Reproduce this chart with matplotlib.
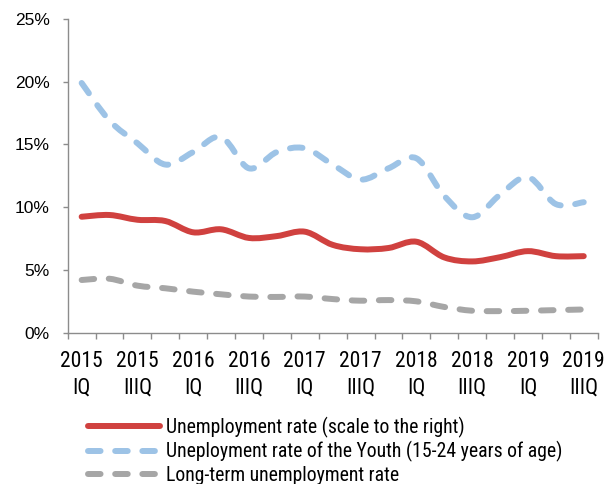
import matplotlib
matplotlib.use("Agg")
import matplotlib.pyplot as plt
from matplotlib.path import Path
from matplotlib.patches import PathPatch
from matplotlib.lines import Line2D
from matplotlib.ticker import FixedLocator, FuncFormatter
import numpy as np

plt.rcParams['font.family'] = ['Roboto Condensed', 'Liberation Sans', 'DejaVu Sans']

categories = ["2015\nIQ", "2015\nIIQ", "2015\nIIIQ", "2015\nIVQ",
              "2016\nIQ", "2016\nIIQ", "2016\nIIIQ", "2016\nIVQ",
              "2017\nIQ", "2017\nIIQ", "2017\nIIIQ", "2017\nIVQ",
              "2018\nIQ", "2018\nIIQ", "2018\nIIIQ", "2018\nIVQ",
              "2019\nIQ", "2019\nIIQ", "2019\nIIIQ"]
unemployment = [9.24, 9.38, 9.0, 8.9, 8.0, 8.24, 7.55, 7.7, 8.05, 7.0,
                6.65, 6.75, 7.25, 6.0, 5.68, 6.02, 6.5, 6.1, 6.1]
youth = [19.9, 16.9, 15.1, 13.4, 14.4, 15.6, 13.1, 14.4, 14.7, 13.4,
         12.2, 13.1, 13.9, 10.9, 9.2, 11.0, 12.4, 10.25, 10.4]
long_term = [4.2, 4.3, 3.75, 3.54, 3.27, 3.06, 2.88, 2.85, 2.88, 2.68,
             2.55, 2.6, 2.5, 2.05, 1.75, 1.72, 1.75, 1.8, 1.85]
labels = ["Unemployment rate (scale to the right)",
          "Uneployment rate of the Youth (15-24 years of age)",
          "Long-term unemployment rate"]
yticks = [0, 5, 10, 15, 20, 25]

RED = "#D0413F"
BLUE = "#9DC3E6"
GREY = "#A6A6A6"
LW = 4.3
DASH = (0, (2.1, 2.45))


def smooth_path(ys):
    xs = np.arange(len(ys), dtype=float)
    pts = np.column_stack([xs, np.asarray(ys, float)])
    n = len(pts)
    verts = [pts[0]]
    codes = [Path.MOVETO]
    for i in range(n - 1):
        p0 = pts[i - 1] if i > 0 else pts[i]
        p1 = pts[i]
        p2 = pts[i + 1]
        p3 = pts[i + 2] if i + 2 < n else pts[i + 1]
        c1 = p1 + (p2 - p0) / 6.0
        c2 = p2 - (p3 - p1) / 6.0
        verts += [c1, c2, p2]
        codes += [Path.CURVE4] * 3
    return Path(verts, codes)


W, H = 612, 484
fig = plt.figure(figsize=(W / 100, H / 100), dpi=100)
L, R, T, B = 67.7, 597.7, 19, 332.7
ax = fig.add_axes([L / W, 1 - B / H, (R - L) / W, (B - T) / H])

series = [(unemployment, RED, '-'), (youth, BLUE, DASH), (long_term, GREY, DASH)]
for ys, col, ls in series:
    patch = PathPatch(smooth_path(ys), facecolor='none', edgecolor=col, lw=LW,
                      linestyle=ls, capstyle='round', joinstyle='round')
    ax.add_patch(patch)

ax.set_xlim(-0.5, len(categories) - 0.5)
ax.set_ylim(0, 25)

for s in ['top', 'right']:
    ax.spines[s].set_visible(False)
for s in ['left', 'bottom']:
    ax.spines[s].set_color('#8C8C8C')
    ax.spines[s].set_linewidth(1.0)

ax.set_yticks(yticks)
ax.yaxis.set_major_formatter(FuncFormatter(lambda v, p: f"{int(v)}%"))
ax.tick_params(axis='y', direction='out', length=3.6, width=1.0, color='#8C8C8C',
               pad=9.5, labelsize=12.5, labelcolor='black')
for t in ax.get_yticklabels():
    t.set_family(['Liberation Sans', 'DejaVu Sans'])

major = list(range(0, len(categories), 2))
ax.set_xticks(major)
ax.set_xticklabels([categories[i] for i in major], linespacing=1.3)
ax.xaxis.set_minor_locator(FixedLocator(np.arange(-0.5, len(categories), 1.0)))
ax.tick_params(axis='x', which='major', length=0, pad=13.5, labelsize=15.5, labelcolor='black')
ax.tick_params(axis='x', which='minor', direction='out', length=4.3, width=1.0, color='#8C8C8C')

handles = [Line2D([], [], color=c, lw=LW, linestyle=ls, dash_capstyle='round',
                  solid_capstyle='round') for _, c, ls in series]
fig.legend(handles, labels, loc='upper left', bbox_to_anchor=(87.7 / W, 1 - 416.5 / H),
           frameon=False, borderpad=0, borderaxespad=0, handlelength=3.65,
           handletextpad=0.3, labelspacing=0.18, fontsize=14.2)

fig.savefig("out.png", dpi=100)
